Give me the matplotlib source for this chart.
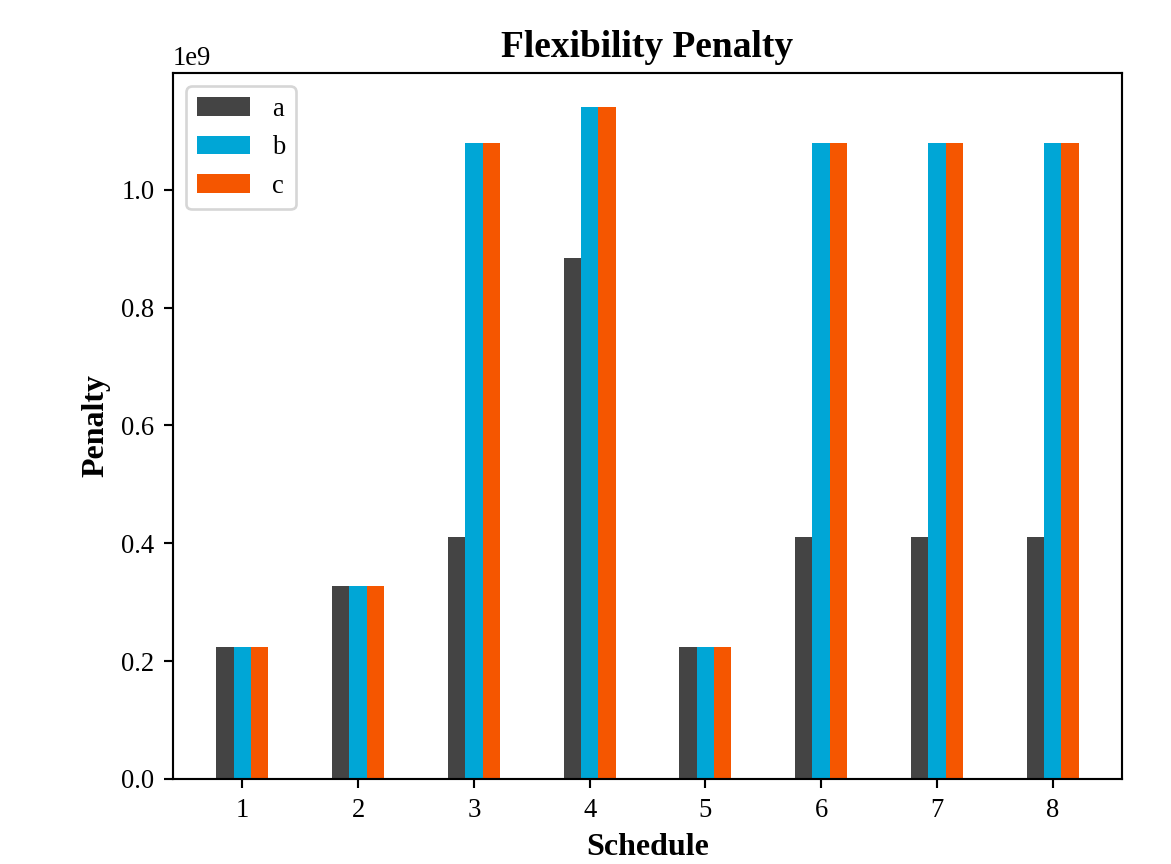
import numpy as np
import matplotlib
matplotlib.use("Agg")
import matplotlib.pyplot as plt

plt.rcParams.update({"font.family": ["Liberation Serif", "DejaVu Serif"], "font.size": 10})

schedules = [1, 2, 3, 4, 5, 6, 7, 8]
a_vals = [0.2236e9, 0.328e9, 0.410e9, 0.884e9, 0.2236e9, 0.410e9, 0.410e9, 0.410e9]
b_vals = [0.2236e9, 0.328e9, 1.079e9, 1.140e9, 0.2236e9, 1.079e9, 1.079e9, 1.079e9]
c_vals = [0.2236e9, 0.328e9, 1.079e9, 1.140e9, 0.2236e9, 1.079e9, 1.079e9, 1.079e9]
series = {"a": a_vals, "b": b_vals, "c": c_vals}
colors = {"a": "#444444", "b": "#00A6D6", "c": "#F55600"}

fig = plt.figure(figsize=(6.1, 4.5), dpi=192)
ax = fig.add_axes([0.1477, 0.0984, 0.8103, 0.8171])

x = np.arange(len(schedules))
w = 0.15
for i, (name, vals) in enumerate(series.items()):
    ax.bar(x + (i - 1) * w, vals, w, color=colors[name], label=name)

ax.set_xticks(x)
ax.set_xticklabels([str(s) for s in schedules])
ax.set_xlim(-0.6, len(schedules) - 0.4)
ax.set_ylim(0, 1.198e9)
ax.set_xlabel("Schedule", fontweight="bold", fontsize=12)
ax.set_ylabel("Penalty", fontweight="bold", fontsize=12)
ax.set_title("Flexibility Penalty", fontweight="bold", fontsize=14)
ax.legend(loc="upper left")

fig.savefig("out.png", dpi=192)
